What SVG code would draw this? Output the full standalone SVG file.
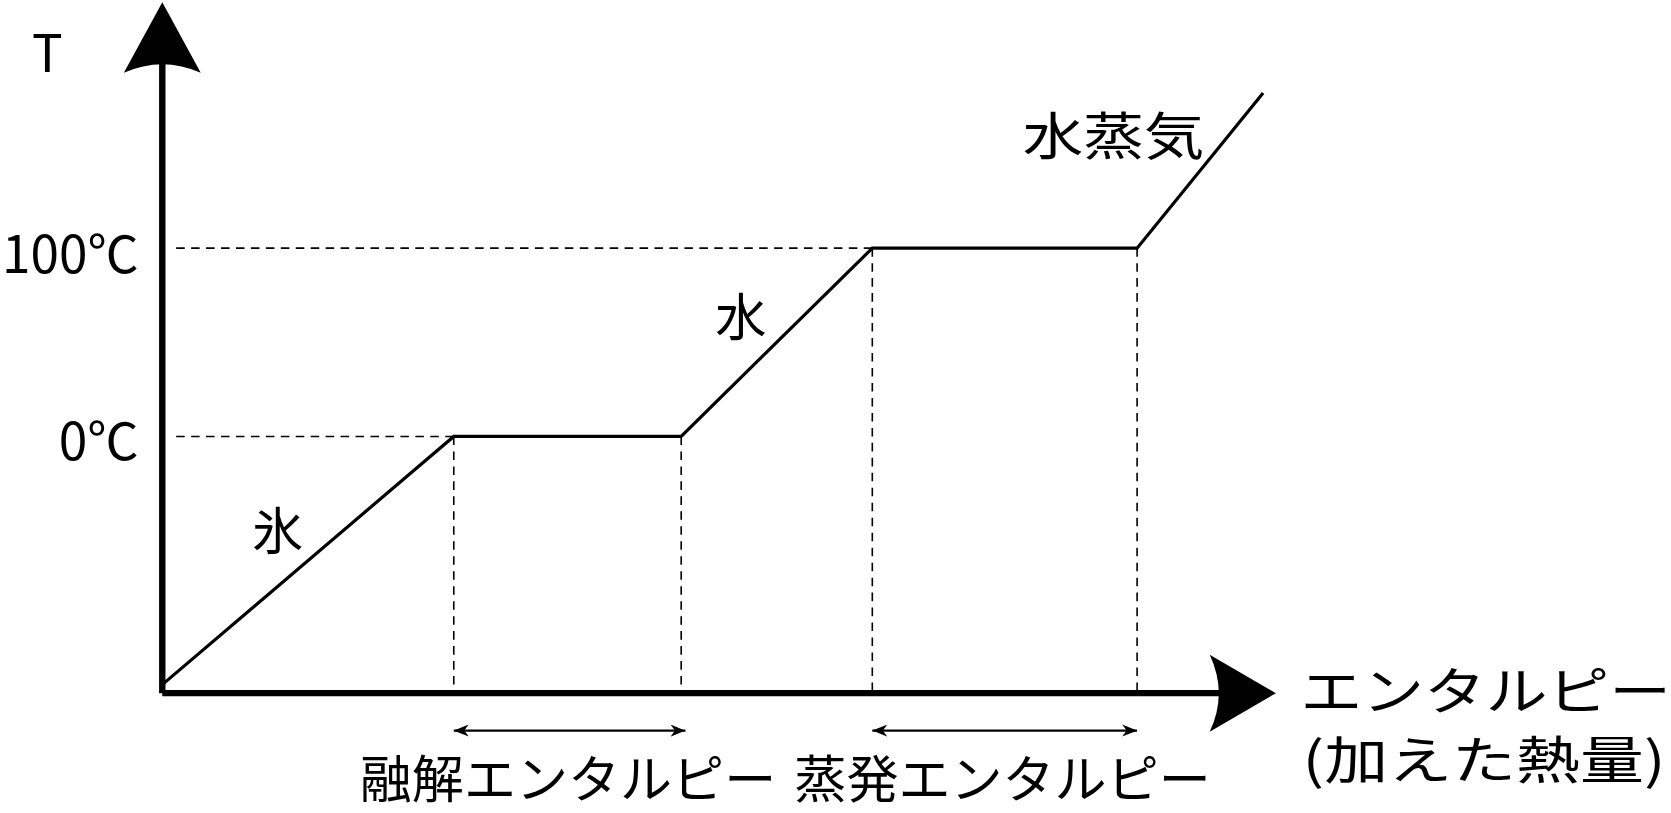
<svg xmlns="http://www.w3.org/2000/svg" width="1671" height="813" viewBox="0 0 1671 813">
<style>
text{font-family:"Noto Sans CJK JP","Noto Sans",sans-serif;fill:#000;font-size:48px}
.dash{stroke:#000;stroke-width:1.5;stroke-dasharray:8 6;fill:none}
.thin{stroke:#000;stroke-width:2;fill:none}
</style>
<defs>
<marker id="ah" viewBox="0 0 10 10" refX="10" refY="5" markerWidth="14" markerHeight="14" markerUnits="userSpaceOnUse" orient="auto-start-reverse"><path d="M0,1 L10,5 L0,9 L3,5 Z" fill="#000"/></marker>
</defs>
<rect width="1671" height="813" fill="#fff"/>
<g transform="scale(1.0677,1.0697)">
<g id="connectors">
<path class="dash" d="M165,408H425M165,232H817M425,408V645M638,408V645M817,232V645M1065,232V645"/>
<path d="M152,640L425,408H638L817,232H1065L1183,87" stroke="#000" stroke-width="3" fill="none"/>
<path d="M152,648V50M152,648H1150" stroke="#000" stroke-width="6" fill="none"/>
<path d="M152,2 L188,68 Q152,52 116,68 Z" fill="#000"/>
<path d="M1195,648 L1133,612 Q1150,648 1133,684 Z" fill="#000"/>
<path class="thin" d="M425,683H642" marker-start="url(#ah)" marker-end="url(#ah)"/>
<path class="thin" d="M817,683H1065" marker-start="url(#ah)" marker-end="url(#ah)"/>
</g>
<g id="labels">
<text x="30" y="67" font-size="52">T</text>
<text x="130" y="255" text-anchor="end" textLength="128" lengthAdjust="spacingAndGlyphs">100℃</text>
<text x="130" y="430" text-anchor="end" textLength="75" lengthAdjust="spacingAndGlyphs">0℃</text>
<text x="236" y="514">氷</text>
<text x="670" y="314">水</text>
<text x="958" y="145" textLength="170" lengthAdjust="spacingAndGlyphs">水蒸気</text>
<text x="1218" y="664" textLength="347" lengthAdjust="spacingAndGlyphs">エンタルピー</text>
<text x="1220" y="728" font-size="46" textLength="340" lengthAdjust="spacingAndGlyphs">(加えた熱量)</text>
<text x="337" y="746" textLength="390" lengthAdjust="spacingAndGlyphs">融解エンタルピー</text>
<text x="744" y="746" textLength="390" lengthAdjust="spacingAndGlyphs">蒸発エンタルピー</text>
</g>
</g>
</svg>
